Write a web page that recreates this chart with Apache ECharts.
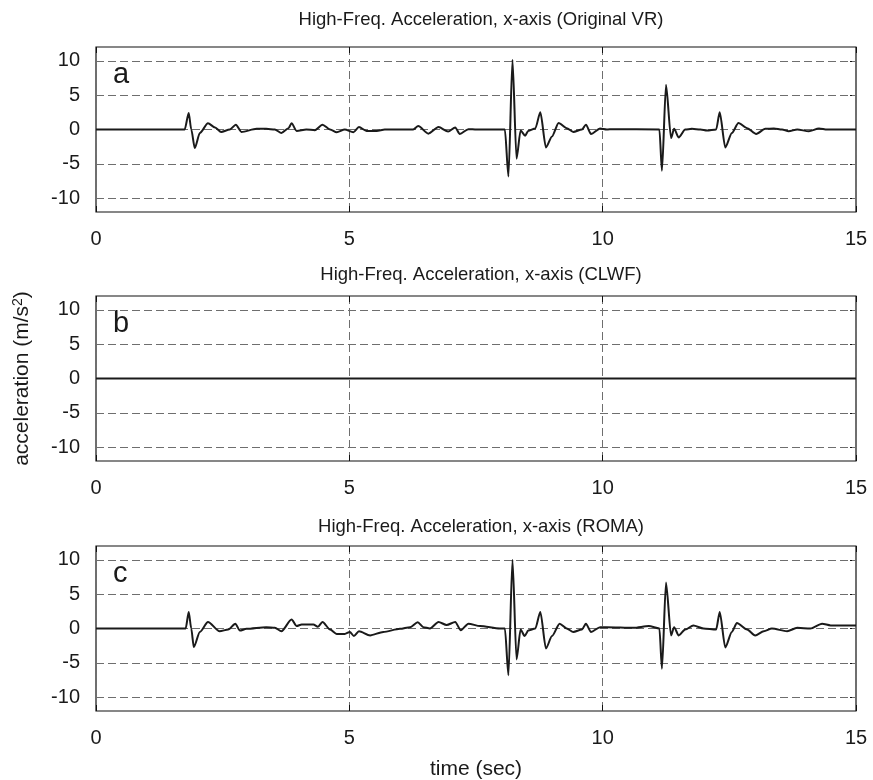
<!DOCTYPE html>
<html>
<head>
<meta charset="utf-8">
<script src="https://cdn.jsdelivr.net/npm/echarts@6/dist/echarts.min.js"></script>
<style>
  html, body { margin: 0; padding: 0; background: #fff; }
  #chart { width: 873px; height: 780px; }
</style>
</head>
<body>
<div id="chart"></div>
<script>
// High-frequency x-axis acceleration for three cases (time in s, acceleration in m/s^2)
const panelTitles = [
  'High-Freq. Acceleration, x-axis (Original VR)',
  'High-Freq. Acceleration, x-axis (CLWF)',
  'High-Freq. Acceleration, x-axis (ROMA)'
];
const panelLetters = ['a', 'b', 'c'];
const xTicks = [0, 5, 10, 15];
const yTicks = [-10, -5, 0, 5, 10];

// (a) Original VR
const timeA = [0, 1.75, 1.83, 1.88, 1.95, 2.05, 2.21, 2.35, 2.47, 2.64, 2.76, 2.87, 3.17, 3.36, 3.53, 3.66, 3.80, 3.86, 3.96, 4.15,
  4.32, 4.47, 4.62, 4.75, 4.91, 5.08, 5.19, 5.34, 5.54, 5.70, 6.26, 6.36, 6.56, 6.76, 6.95, 7.09, 7.18, 7.35, 7.51, 8.07,
  8.14, 8.22, 8.30, 8.38, 8.47, 8.53, 8.67, 8.77, 8.88, 9.00, 9.13, 9.29, 9.42, 9.59, 9.67, 9.77, 9.95, 10.08, 10.20, 11.12,
  11.17, 11.25, 11.35, 11.41, 11.50, 11.63, 11.76, 11.93, 12.06, 12.24, 12.31, 12.42, 12.55, 12.68, 12.85, 13.03, 13.21, 13.38, 13.54, 13.67,
  13.84, 14.07, 14.27, 14.43, 15];
const accA = [0, 0, 2.4, 0, -2.7, -0.5, 0.9, 0.3, -0.35, 0, 0.7, -0.35, 0.1, 0.1, 0, -0.5, 0.2, 0.9, -0.2, 0,
  -0.1, 0.7, 0, -0.4, 0, -0.4, 0.35, -0.2, -0.2, 0, 0, 0.5, -0.6, 0.35, -0.3, 0.3, -0.65, 0.05, 0, 0,
  -6.85, 10.15, -4.25, -0.15, -0.9, -0.2, 0.15, 2.5, -2.6, -1.0, 0.95, 0.2, -0.35, 0, 0.7, -0.65, 0.15, 0, 0.05, 0,
  -6.0, 6.5, -1.25, 0.1, -1.15, 0, 0.1, 0, -0.15, 0, 2.5, -2.6, -0.5, 0.95, 0.2, -0.65, 0.1, 0.15, 0, -0.25,
  0, -0.25, 0.15, 0, 0];

// (b) CLWF
const timeB = [0, 15];
const accB = [0, 0];

// (c) ROMA
const timeC = [0, 1.77, 1.83, 1.88, 1.93, 2.05, 2.21, 2.44, 2.61, 2.75, 2.84, 2.97, 3.36, 3.53, 3.66, 3.86, 3.96, 4.06, 4.29, 4.38,
  4.47, 4.62, 4.75, 4.91, 5.01, 5.09, 5.19, 5.41, 5.67, 6.00, 6.20, 6.35, 6.46, 6.59, 6.76, 6.92, 7.09, 7.20, 7.35, 7.58,
  7.97, 8.07, 8.14, 8.22, 8.30, 8.38, 8.46, 8.53, 8.67, 8.77, 8.88, 9.00, 9.15, 9.29, 9.42, 9.59, 9.67, 9.77, 9.95, 10.08,
  10.61, 10.91, 11.12, 11.17, 11.25, 11.35, 11.41, 11.50, 11.63, 11.79, 11.99, 12.24, 12.31, 12.42, 12.55, 12.65, 12.85, 13.01, 13.18, 13.34,
  13.64, 13.84, 14.10, 14.33, 14.50, 15];
const accC = [0, 0, 2.4, 0, -2.7, -0.5, 0.95, -0.4, -0.15, 0.7, -0.3, -0.05, 0.2, 0.1, -0.4, 1.3, 0.35, 0.6, 0.6, 0.25,
  0.95, -0.15, -0.8, -0.8, -0.5, -1.1, -0.4, -1.0, -0.5, -0.05, 0.2, 0.9, 0.2, 0, 0.95, 0.5, 0.95, -0.25, 0.7, 0.35,
  0, 0, -6.8, 10.0, -4.5, -0.15, -1.1, -0.3, 0, 2.4, -2.9, -1.1, 0.7, 0, -0.5, -0.15, 0.7, -0.5, 0.2, 0.2,
  0.1, 0.35, 0, -5.85, 6.7, -1.0, 0.2, -1.0, -0.15, 0.45, 0, -0.15, 2.4, -2.75, -0.5, 0.8, -0.15, -1.0, -0.4, 0,
  -0.4, 0.1, 0, 0.7, 0.45, 0.45];

const panelTimes = [timeA, timeB, timeC];
const panelAcc = [accA, accB, accC];

const FONT = '"Liberation Sans", Arial, Helvetica, sans-serif';
const gridTops = [47, 296, 546];
const titleTops = [5, 260, 512];
const gridLeft = 96;
const gridWidth = 760;
const gridHeight = 165;
const dash = [8, 4];
const gridColor = '#6e6e6e';
const inkColor = '#1a1a1a';

const grids = [], xAxes = [], yAxes = [], series = [], titles = [], graphics = [];

gridTops.forEach((top, i) => {
  grids.push({
    left: gridLeft, top: top, width: gridWidth, height: gridHeight,
    show: true, borderColor: '#111', borderWidth: 1.2, backgroundColor: 'transparent'
  });
  // bottom x axis with labels
  xAxes.push({
    type: 'value', gridIndex: i, min: 0, max: 15, interval: 5,
    axisLine: { show: false, onZero: false },
    axisTick: { show: true, inside: true, length: 6, lineStyle: { color: '#111' } },
    axisLabel: { color: inkColor, fontSize: 20, fontFamily: FONT, margin: 17 },
    splitLine: { show: true, lineStyle: { color: gridColor, type: dash, width: 1 } }
  });
  // top mirror axis, ticks only
  xAxes.push({
    type: 'value', gridIndex: i, position: 'top', min: 0, max: 15, interval: 5,
    axisLine: { show: false, onZero: false },
    axisTick: { show: true, inside: true, length: 6, lineStyle: { color: '#111' } },
    axisLabel: { show: false }, splitLine: { show: false }
  });
  yAxes.push({
    type: 'value', gridIndex: i, min: -12, max: 12,
    axisLine: { show: false, onZero: false },
    axisTick: { show: true, inside: true, length: 6, customValues: yTicks, lineStyle: { color: '#111' } },
    axisLabel: { color: inkColor, fontSize: 20, fontFamily: FONT, margin: 16, customValues: yTicks },
    splitLine: { show: false },
    name: i === 1 ? '{t|acceleration (m/s}{s|2}{t|)}' : '',
    nameLocation: 'middle', nameGap: 62, nameRotate: 90,
    nameTextStyle: {
      rich: {
        t: { fontSize: 21, fontFamily: FONT, color: inkColor },
        s: { fontSize: 14, fontFamily: FONT, color: inkColor, verticalAlign: 'top', padding: [0, 0, 9, 0] }
      }
    }
  });
  // right mirror axis, ticks only
  yAxes.push({
    type: 'value', gridIndex: i, position: 'right', min: -12, max: 12,
    axisLine: { show: false, onZero: false },
    axisTick: { show: true, inside: true, length: 6, customValues: yTicks, lineStyle: { color: '#111' } },
    axisLabel: { show: false }, splitLine: { show: false }
  });

  // horizontal dashed reference lines at the labelled accelerations
  series.push({
    type: 'line', xAxisIndex: 2 * i, yAxisIndex: 2 * i, data: [], silent: true,
    markLine: {
      silent: true, symbol: 'none', label: { show: false },
      lineStyle: { color: gridColor, type: dash, width: 1 },
      data: yTicks.map(v => ({ yAxis: v }))
    }
  });
  series.push({
    type: 'line', name: panelLetters[i], xAxisIndex: 2 * i, yAxisIndex: 2 * i,
    data: panelTimes[i].map((t, k) => [t, panelAcc[i][k]]),
    showSymbol: false, symbol: 'none',
    smooth: 0.25, smoothMonotone: 'x',
    lineStyle: { color: inkColor, width: 2 },
    z: 5
  });

  titles.push({
    text: panelTitles[i], left: gridLeft + gridWidth / 2, top: titleTops[i], textAlign: 'center',
    textStyle: { fontSize: 18.5, fontWeight: 'normal', fontFamily: FONT, color: inkColor }
  });
  graphics.push({
    type: 'text', x: 113, y: top + 28,
    style: { text: panelLetters[i], font: '29px ' + FONT, fill: inkColor, textVerticalAlign: 'middle' }
  });
});

graphics.push({
  type: 'text', x: gridLeft + gridWidth / 2, y: 769,
  style: { text: 'time (sec)', font: '21px ' + FONT, fill: inkColor, textAlign: 'center', textVerticalAlign: 'middle' }
});

const chart = echarts.init(document.getElementById('chart'), null, { renderer: 'canvas' });
chart.setOption({
  animation: false,
  backgroundColor: '#fff',
  title: titles,
  grid: grids,
  xAxis: xAxes,
  yAxis: yAxes,
  series: series,
  graphic: graphics
});
</script>
</body>
</html>
